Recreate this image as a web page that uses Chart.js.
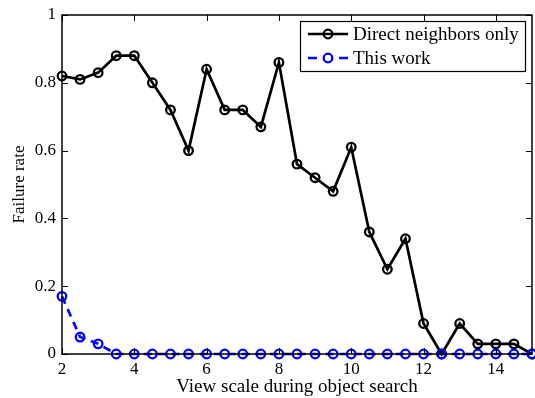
<!DOCTYPE html>
<html><head><meta charset="utf-8">
<script src="https://cdn.jsdelivr.net/npm/chart.js@4/dist/chart.umd.min.js"></script>
<style>html,body{margin:0;padding:0;background:#fff}#wrap{width:535px;height:398px}</style>
</head><body><div id="wrap"><canvas id="c" width="535" height="398"></canvas></div>
<script>
const xValues = [2,2.5,3,3.5,4,4.5,5,5.5,6,6.5,7,7.5,8,8.5,9,9.5,10,10.5,11,11.5,12,12.5,13,13.5,14,14.5,15];
const directNeighbors = [0.82,0.81,0.83,0.88,0.88,0.80,0.72,0.60,0.84,0.72,0.72,0.67,0.86,0.56,0.52,0.48,0.61,0.36,0.25,0.34,0.09,0.0,0.09,0.03,0.03,0.03,0.0];
const thisWork = [0.17,0.05,0.03,0,0,0,0,0,0,0,0,0,0,0,0,0,0,0,0,0,0,0,0,0,0,0,0];
const seriesNames = ["Direct neighbors only","This work"];
const xTicks = [2,4,6,8,10,12,14];
const yTicks = [0,0.2,0.4,0.6,0.8,1];
const xTitle = "View scale during object search";
const yTitle = "Failure rate";

const FONT = "'Liberation Serif', 'Times New Roman', serif";

const boxPlugin = {
  id:'box',
  afterDatasetsDraw(chart){
    const {ctx, chartArea:a, scales:{x,y}} = chart;
    ctx.save();
    ctx.strokeStyle='#000'; ctx.lineWidth=1.5;
    ctx.strokeRect(a.left, a.top, a.right-a.left, a.bottom-a.top);
    ctx.lineWidth=1;
    const L=6;
    xTicks.forEach(v=>{const px=Math.round(x.getPixelForValue(v))+0.5;
      ctx.beginPath();ctx.moveTo(px,a.bottom);ctx.lineTo(px,a.bottom-L);ctx.moveTo(px,a.top);ctx.lineTo(px,a.top+L);ctx.stroke();});
    yTicks.forEach(v=>{const py=Math.round(y.getPixelForValue(v))+0.5;
      ctx.beginPath();ctx.moveTo(a.left,py);ctx.lineTo(a.left+L,py);ctx.moveTo(a.right,py);ctx.lineTo(a.right-L,py);ctx.stroke();});
    // legend
    const lx=300, ly=21, lw=225, lh=50;
    ctx.fillStyle='#fff'; ctx.fillRect(lx,ly,lw,lh);
    ctx.lineWidth=1.2; ctx.strokeStyle='#000'; ctx.strokeRect(lx+0.5,ly+0.5,lw,lh);
    chart.data.datasets.forEach((ds)=>{
      const idx = seriesNames.indexOf(ds.label);
      const cy = 34+idx*24;
      ctx.strokeStyle=ds.borderColor; ctx.lineWidth=ds.borderWidth;
      if(ds.borderDash){
        ctx.beginPath(); ctx.moveTo(308,cy); ctx.lineTo(317,cy); ctx.moveTo(339,cy); ctx.lineTo(348,cy); ctx.stroke();
      } else {
        ctx.beginPath(); ctx.moveTo(308,cy); ctx.lineTo(348,cy); ctx.stroke();
      }
      ctx.lineWidth=ds.pointBorderWidth; ctx.strokeStyle=ds.pointBorderColor;
      ctx.beginPath(); ctx.arc(328,cy,ds.pointRadius,0,Math.PI*2); ctx.stroke();
      ctx.fillStyle='#000'; ctx.font="19px "+FONT; ctx.textBaseline='middle'; ctx.textAlign='left';
      ctx.fillText(ds.label, 353, cy+1);
    });
    ctx.restore();
  }
};

new Chart(document.getElementById('c'), {
  type:'line',
  data:{ datasets:[
    {label:seriesNames[0], data:xValues.map((v,i)=>({x:v,y:directNeighbors[i]})),
     borderColor:'#000', borderWidth:2.7, pointRadius:4.3, pointBorderWidth:2.3, pointBorderColor:'#000',
     pointBackgroundColor:'rgba(0,0,0,0)', tension:0, order:1},
    {label:seriesNames[1], data:xValues.map((v,i)=>({x:v,y:thisWork[i]})),
     borderColor:'#0000ff', borderWidth:2.7, borderDash:[8,6], pointRadius:4.3, pointBorderWidth:2.3, pointBorderColor:'#0000ff',
     pointBackgroundColor:'rgba(0,0,0,0)', tension:0, order:0}
  ]},
  options:{
    responsive:false, animation:false, clip:false,
    layout:{autoPadding:false, padding:{left:0,right:3,top:15,bottom:0}},
    plugins:{legend:{display:false}, tooltip:{enabled:false}},
    scales:{
      x:{type:'linear', min:2, max:15,
         afterBuildTicks(s){s.ticks=xTicks.map(v=>({value:v}));},
         afterFit(s){s.height=44; s.paddingRight=0; s.paddingLeft=0;},
         grid:{display:false, drawTicks:false}, border:{display:false},
         ticks:{color:'#000', font:{family:FONT,size:17}, padding:5, maxRotation:0, autoSkip:false},
         title:{display:true, text:xTitle, color:'#000', font:{family:FONT,size:19}, padding:{top:0,bottom:0}}},
      y:{type:'linear', min:0, max:1,
         afterBuildTicks(s){s.ticks=yTicks.map(v=>({value:v}));},
         afterFit(s){s.width=62; s.paddingTop=0; s.paddingBottom=0;},
         grid:{display:false, drawTicks:false}, border:{display:false},
         ticks:{color:'#000', font:{family:FONT,size:17}, padding:6, callback:v=>String(v)},
         title:{display:true, text:yTitle, color:'#000', font:{family:FONT,size:17}, padding:{top:9,bottom:0}}}
    }
  },
  plugins:[boxPlugin]
});
</script></body></html>
